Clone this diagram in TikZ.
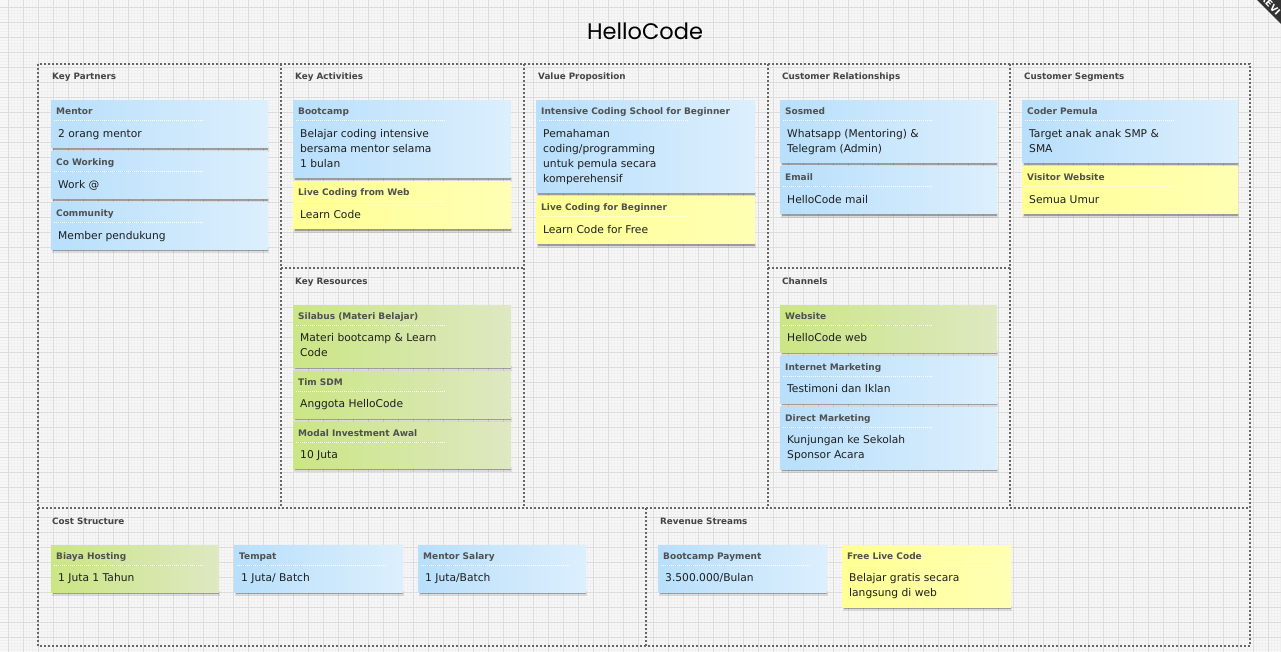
\documentclass[tikz,border=0pt]{standalone}
\usepackage{fontspec}
\setmainfont{DejaVu Sans}
\newfontfamily\titlefont{Poppins}
\definecolor{bg}{HTML}{F7F7F7}
\definecolor{gridmaj}{HTML}{DCDCDC}
\definecolor{gridmin}{HTML}{F0F0F0}
\definecolor{framec}{HTML}{666666}
\definecolor{blueA}{HTML}{B8DFFB}
\definecolor{blueB}{HTML}{DCEFFD}
\definecolor{yelA}{HTML}{FFFF94}
\definecolor{yelB}{HTML}{FFFFB4}
\definecolor{grnA}{HTML}{CBE685}
\definecolor{grnB}{HTML}{DEE8C2}
\definecolor{hdrc}{HTML}{505050}
\definecolor{secc}{HTML}{444444}
\definecolor{bodyc}{HTML}{1E1E1E}
\definecolor{ribbonc}{HTML}{333333}
\tikzset{
  bluenote/.style={left color=blueA,right color=blueB},
  yellownote/.style={left color=yelA,right color=yelB},
  greennote/.style={left color=grnA,right color=grnB},
  hdr/.style={font=\fontsize{9}{10}\selectfont\bfseries,text=hdrc,inner sep=0,anchor=base west},
  bodytxt/.style={font=\fontsize{10.7}{15}\selectfont,text=bodyc,inner sep=0,anchor=north west,align=left},
  sectitle/.style={font=\fontsize{8.8}{10}\selectfont\bfseries,text=secc,inner sep=0,anchor=base west},
  board/.style={draw=framec,line width=2pt,dash pattern=on 2pt off 2pt},
  sep/.style={draw=white,line width=1pt,dash pattern=on 1pt off 1pt},
}
% #1 id, #2 x, #3 y, #4 w, #5 h, #6 style, #7 header, #8 body
\newcommand\snote[8]{%
  \fill[black,opacity=.10] (#2+1,#3+#5-1) rectangle (#2+#4+1,#3+#5+4);
  \fill[black,opacity=.28] (#2+2,#3+#5-1) rectangle (#2+#4,#3+#5+2);
  \node[#6,anchor=north west,inner sep=0,outer sep=0,minimum width=#4,minimum height=#5] (#1) at (#2,#3) {};
  \node[hdr] (#1h) at (#2+5,#3+14) {#7};
  \draw[sep] (#2+3,#3+20) -- (#2+153,#3+20);
  \node[bodytxt] (#1b) at (#2+7,#3+27) {\rule{0pt}{9pt}#8};
}
\begin{document}
\begin{tikzpicture}[x=1pt,y=-1pt]
\useasboundingbox (0,0) rectangle (1281,652);
\fill[bg] (0,0) rectangle (1281,652);
\foreach \i in {0,3,...,1281} \draw[gridmin,line width=.5pt] (\i+8,0) -- (\i+8,652);
\foreach \i in {0,3,...,652} \draw[gridmin,line width=.5pt] (0,\i+7) -- (1281,\i+7);
\foreach \i in {-15,0,15,...,1280} \draw[gridmaj,line width=.8pt] (\i+8,0) -- (\i+8,652);
\foreach \i in {-15,0,15,...,650} \draw[gridmaj,line width=.8pt] (0,\i+7) -- (1281,\i+7);

% ribbon
\fill[ribbonc] (1257,0) -- (1281,24) -- (1281,0) -- cycle;
\begin{scope}
\clip (1257,0) -- (1281,24) -- (1281,0) -- cycle;
\node[font=\fontsize{9}{10}\selectfont\bfseries,text=white,rotate=-45,anchor=west,inner sep=0] (ribbon) at (1262,-3.5) {REVI};
\end{scope}

% title
\node[font=\titlefont\fontsize{22.5}{22.5}\selectfont,inner sep=0] (title) at (645,31) {HelloCode};

% board
\draw[board] (38,64) rectangle (1250,646);
\draw[board] (281,64) -- (281,508);
\draw[board] (524,64) -- (524,508);
\draw[board] (768,64) -- (768,508);
\draw[board] (1010,64) -- (1010,508);
\draw[board] (38,508) -- (1250,508);
\draw[board] (281,268) -- (524,268);
\draw[board] (768,268) -- (1010,268);
\draw[board] (646,508) -- (646,646);

% section titles
\node[sectitle] (kp) at (52,80) {Key Partners};
\node[sectitle] (ka) at (295,80) {Key Activities};
\node[sectitle] (vp) at (538,80) {Value Proposition};
\node[sectitle] (cr) at (782,80) {Customer Relationships};
\node[sectitle] (cs) at (1024,80) {Customer Segments};
\node[sectitle] (kr) at (295,284) {Key Resources};
\node[sectitle] (ch) at (782,284) {Channels};
\node[sectitle] (cost) at (52,524) {Cost Structure};
\node[sectitle] (rev) at (660,524) {Revenue Streams};

% notes
\snote{mentor}{51}{101}{217}{47}{bluenote}{Mentor}{2 orang mentor}
\snote{coworking}{51}{152}{217}{47}{bluenote}{Co Working}{Work @}
\snote{community}{51}{203}{217}{46}{bluenote}{Community}{Member pendukung}
\snote{bootcamp}{293}{101}{218}{77}{bluenote}{Bootcamp}{Belajar coding intensive\\bersama mentor selama\\1 bulan}
\snote{livecodeweb}{293}{182}{218}{47}{yellownote}{Live Coding from Web}{Learn Code}
\snote{silabus}{293}{305}{218}{62}{greennote}{Silabus (Materi Belajar)}{Materi bootcamp \& Learn\\Code}
\snote{timsdm}{293}{371}{218}{47}{greennote}{Tim SDM}{Anggota HelloCode}
\snote{modal}{293}{422}{218}{46}{greennote}{Modal Investment Awal}{10 Juta}
\snote{intensive}{536}{101}{219}{92}{bluenote}{Intensive Coding School for Beginner}{Pemahaman\\coding/programming\\untuk pemula secara\\komperehensif}
\snote{livebeg}{536}{197}{219}{47}{yellownote}{Live Coding for Beginner}{Learn Code for Free}
\snote{sosmed}{780}{101}{217}{62}{bluenote}{Sosmed}{Whatsapp (Mentoring) \&\\Telegram (Admin)}
\snote{email}{780}{167}{217}{47}{bluenote}{Email}{HelloCode mail}
\snote{website}{780}{305}{217}{47}{greennote}{Website}{HelloCode web}
\snote{inetmkt}{780}{356}{217}{47}{bluenote}{Internet Marketing}{Testimoni dan Iklan}
\snote{directmkt}{780}{407}{217}{62}{bluenote}{Direct Marketing}{Kunjungan ke Sekolah\\Sponsor Acara}
\snote{coder}{1022}{101}{216}{62}{bluenote}{Coder Pemula}{Target anak anak SMP \&\\SMA}
\snote{visitor}{1022}{167}{216}{47}{yellownote}{Visitor Website}{Semua Umur}
\snote{hosting}{51}{545}{168}{47}{greennote}{Biaya Hosting}{1 Juta 1 Tahun}
\snote{tempat}{234}{545}{169}{47}{bluenote}{Tempat}{1 Juta/ Batch}
\snote{salary}{418}{545}{168}{47}{bluenote}{Mentor Salary}{1 Juta/Batch}
\snote{payment}{658}{545}{169}{47}{bluenote}{Bootcamp Payment}{3.500.000/Bulan}
\snote{freelive}{842}{545}{169}{62}{yellownote}{Free Live Code}{Belajar gratis secara\\langsung di web}
\end{tikzpicture}
\end{document}
